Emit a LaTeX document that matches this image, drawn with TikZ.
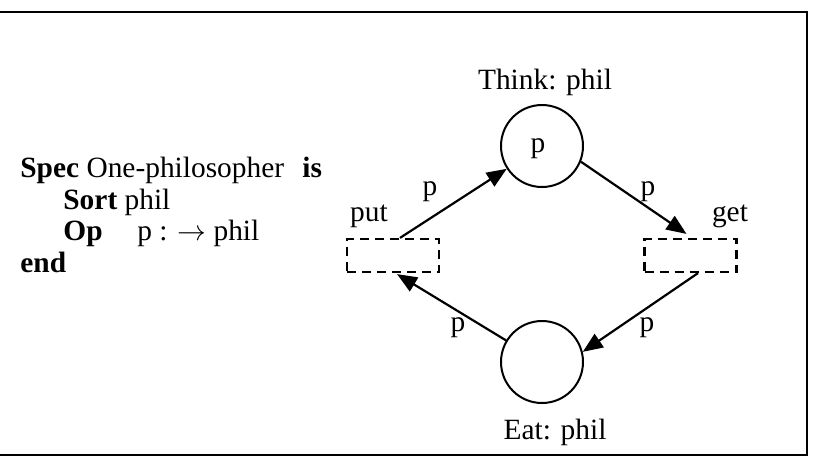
\documentclass[tikz,border=0pt]{standalone}
\usepackage{fontspec}
\setmainfont{Liberation Serif}
\usetikzlibrary{arrows.meta,calc}
\begin{document}
\begin{tikzpicture}[x=0.5pt,y=-0.5pt,
  every node/.style={font=\fontsize{14.7}{16.5}\selectfont, inner sep=0pt},
  place/.style={draw, circle, line width=1pt, minimum size=41pt},
  trans/.style={draw, dash pattern=on 4.5pt off 3pt, line width=1.1pt, minimum width=46pt, minimum height=16.5pt},
  arc/.style={line width=1.1pt, -{Triangle[length=10pt,width=8pt]}},
  lbl/.style={anchor=base west}]
\useasboundingbox (0,0) rectangle (814,456);
% frame
\draw[line width=1pt] (0,12) -- (807,12) -- (807,455) -- (0,455);
% specification text
\node[lbl] (spec) at (20,177) {\textbf{Spec} One-philosopher};
\node[lbl] (is) at (302,177) {\textbf{is}};
\node[lbl] (sort) at (63,209) {\textbf{Sort} phil};
\node[lbl] (op) at (63,240) {\textbf{Op}};
\node[lbl] (opdef) at (137,240) {p : $\rightarrow$ phil};
\node[lbl] (end) at (20,272) {\textbf{end}};
% net
\node[place] (think) at (542,146) {};
\node (tok) at (538,149) {p};
\node[place] (eat) at (542,362) {};
\node[trans] (put) at (393,255.5) {};
\node[trans] (get) at (690.5,255.5) {};
\node (thinkl) at (545,82) {Think: phil};
\node (eatl) at (555,432) {Eat: phil};
\node (putl) at (369,216) {put};
\node (getl) at (730,216) {get};
\node (p1) at (430,192) {p};
\node (p2) at (648,192) {p};
\node (p3) at (458,328) {p};
\node (p4) at (647,328) {p};
\draw[arc] ($(put.north)+(7,0)$) -- (think);
\draw[arc] (think.-22) -- ($(get.north)+(-4,-4)$);
\draw[arc] ($(get.south)+(7.5,0)$) -- (eat.14);
\draw[arc] (eat.149) -- ($(put.south)+(4,1)$);
\end{tikzpicture}
\end{document}
